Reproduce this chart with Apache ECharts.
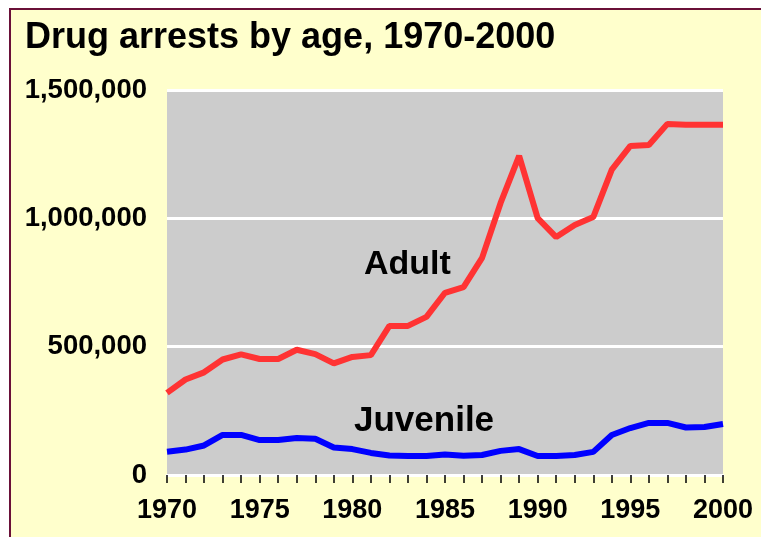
<!DOCTYPE html>
<html lang="en">
	<head>
		<meta charset="UTF-8">
		<title>Drug arrests by age, 1970-2000</title>
		<style>
			body { margin: 0; background: #ffffff; overflow: hidden; }
			#frame {
				position: absolute; left: 9px; top: 8px; width: 770px; height: 540px;
				background: #ffffcc; border-top: 2px solid #6a1038; border-left: 2px solid #6a1038;
			}
			#chart { position: absolute; left: 0; top: 0; width: 761px; height: 537px; }
		</style>
	</head>
	<body>
		<div id="frame"></div>
		<div id="chart"></div>
		<script src="https://cdn.jsdelivr.net/npm/echarts@6/dist/echarts.min.js"></script>
		<script>
			// years on the x axis
			var years = [];
			for (var y = 1970; y <= 2000; y++) years.push(String(y));

			// arrests
			var adult = [320000, 372000, 400000, 450000, 470000, 452000, 452000, 488000, 471000, 435000,
				460000, 467000, 581000, 581000, 616000, 710000, 732000, 846000, 1060000, 1243000,
				1001000, 927000, 974000, 1005000, 1190000, 1282000, 1286000, 1368000, 1365000, 1365000, 1365000];
			var juvenile = [91000, 99000, 115000, 156000, 156000, 136000, 136000, 144000, 141000, 107000,
				101000, 86000, 76000, 74000, 74000, 80000, 75000, 78000, 94000, 101000,
				74000, 74000, 78000, 90000, 156000, 183000, 203000, 203000, 185000, 187000, 199000];

			var yTicks = [0, 500000, 1000000, 1500000];

			var font = "'Liberation Sans', Arial, sans-serif";
			var chart = echarts.init(document.getElementById('chart'));

			var option = {
				backgroundColor: 'transparent',
				animation: false,
				title: {
					text: 'Drug arrests by age, 1970-2000',
					left: 20, top: 15,
					textStyle: { fontFamily: font, fontSize: 36, fontWeight: 'bold', color: '#000' }
				},
				grid: {
					left: 167, right: 38, top: 90, bottom: 62,
					show: true, backgroundColor: '#cccccc', borderWidth: 0
				},
				xAxis: {
					type: 'category',
					data: years,
					boundaryGap: false,
					axisLine: { lineStyle: { color: '#ffffff', width: 3 } },
					axisTick: { interval: 0, length: 8, lineStyle: { color: '#000', width: 1.5 } },
					axisLabel: {
						interval: 4, margin: 22, color: '#000',
						fontFamily: font, fontSize: 27, fontWeight: 'bold'
					},
					splitLine: { show: false }
				},
				yAxis: {
					type: 'value',
					min: yTicks[0], max: yTicks[yTicks.length - 1], interval: 500000,
					axisLine: { show: false },
					axisTick: { show: false },
					axisLabel: {
						margin: 20, color: '#000',
						fontFamily: font, fontSize: 27.5, fontWeight: 'bold',
						formatter: function (v) { return v.toLocaleString('en-US'); }
					},
					splitLine: { lineStyle: { color: '#ffffff', width: 3 } }
				},
				graphic: [
					{ type: 'text', left: 364, top: 248,
						style: { text: 'Adult', fill: '#000', font: 'bold 34px ' + font } },
					{ type: 'text', left: 354, top: 404,
						style: { text: 'Juvenile', fill: '#000', font: 'bold 35px ' + font } }
				],
				series: [
					{
						name: 'Adult', type: 'line', data: adult,
						symbol: 'none', lineStyle: { color: '#ff3333', width: 6 }
					},
					{
						name: 'Juvenile', type: 'line', data: juvenile,
						symbol: 'none', lineStyle: { color: '#0000ff', width: 6 }
					}
				]
			};

			chart.setOption(option);
		</script>
	</body>
</html>
